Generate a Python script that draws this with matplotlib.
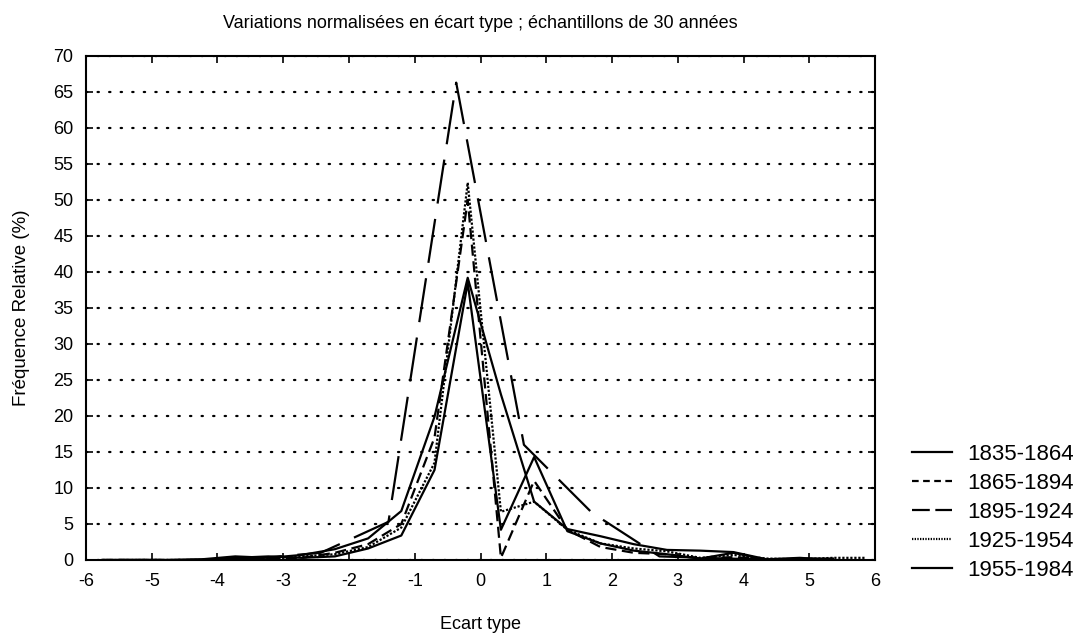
import numpy as np
import matplotlib
matplotlib.use('Agg')
import matplotlib.pyplot as plt
from matplotlib.lines import Line2D

plt.rcParams['font.family'] = ['Liberation Sans', 'DejaVu Sans']
plt.rcParams['axes.unicode_minus'] = False

# bin centres (in standard deviations) for the 0.5-sigma samples
x_fine = [-5.75, -5.245, -4.74, -4.235, -3.73, -3.225, -2.72, -2.215, -1.71, -1.205,
          -0.70, -0.195, 0.31, 0.815, 1.32, 1.825, 2.33, 2.835, 3.34, 3.845,
          4.35, 4.855, 5.36]
x_dotted = x_fine + [5.865]
# the 1895-1924 sample has wider bins once normalised
x_wide = [-5.52, -4.49, -3.46, -2.43, -1.40, -0.37, 0.66, 1.69, 2.72, 3.75, 4.78]

f_1835 = [0, 0, 0, 0.1, 0.5, 0.3, 0.7, 1.5, 3.0, 6.8,
          19.9, 39.2, 23.0, 8.1, 4.3, 3.3, 2.2, 1.4, 1.3, 1.1,
          0.1, 0.3, 0]
f_1865 = [0, 0, 0, 0, 0.1, 0.2, 0.3, 1.0, 2.2, 5.0,
          17.0, 50.0, 0.3, 11.0, 4.2, 1.8, 1.0, 0.8, 0.2, 0.4,
          0.1, 0, 0]
f_1895 = [0, 0, 0.2, 1.0, 5.3, 66.3, 16.0, 6.6, 0.5, 0.2, 0]
f_1925 = [0, 0, 0, 0, 0.1, 0.2, 0.5, 0.8, 1.8, 4.5,
          13.5, 52.4, 6.7, 8.1, 4.2, 2.3, 1.6, 1.2, 0.3, 0.7,
          0.2, 0.1, 0.3, 0.3]
f_1955 = [0, 0, 0, 0, 0.3, 0.5, 0.3, 0.5, 1.6, 3.4,
          12.5, 38.5, 4.2, 14.3, 4.0, 2.3, 1.3, 0.8, 0.2, 1.0,
          0, 0.2, 0.2]

labels = ['1835-1864', '1865-1894', '1895-1924', '1925-1954', '1955-1984']

fig = plt.figure(figsize=(10.84, 6.4), dpi=100)
ax = fig.add_axes([0.0793, 0.125, 0.7280, 0.7875])

lw = 1.6
ax.plot(x_fine, f_1835, color='black', lw=lw, ls='-')
ax.plot(x_fine, f_1865, color='black', lw=lw, dashes=(5, 2.5))
ax.plot(x_wide, f_1895, color='black', lw=lw, dashes=(20, 7))
ax.plot(x_dotted, f_1925, color='black', lw=lw, dashes=(1, 0.8))
ax.plot(x_fine, f_1955, color='black', lw=lw, ls='-')

ax.set_xlim(-6, 6)
ax.set_ylim(0, 70)
ax.set_xticks(np.arange(-6, 7, 1))
ax.set_yticks(np.arange(0, 71, 5))
ax.grid(axis='y', color='black', lw=1.6, linestyle=(0, (0.6, 4.6)), dash_capstyle='round')
ax.set_axisbelow(True)

for s in ax.spines.values():
    s.set_linewidth(1.5)
ax.tick_params(direction='in', top=True, right=True, length=5, width=1.2,
               labelsize=13)
ax.tick_params(axis='x', pad=9)
ax.tick_params(axis='y', pad=9)

ax.set_title('Variations normalisées en écart type ; échantillons de 30 années',
             fontsize=13, pad=20)
ax.set_xlabel('Ecart type', fontsize=13, labelpad=19)
ax.set_ylabel('Fréquence Relative (%)', fontsize=13.5, labelpad=17)

# legend proxies with shorter dash patterns
styles = [dict(ls='-'), dict(dashes=(3, 2)), dict(dashes=(8, 2.5)),
          dict(dashes=(0.6, 0.6)), dict(ls='-')]
handles = [Line2D([], [], color='black', lw=1.6, **st) for st in styles]
fig.legend(handles, labels, loc='lower left', bbox_to_anchor=(0.841, 0.092),
           frameon=False, fontsize=16, handlelength=1.8, handletextpad=0.68,
           labelspacing=0.36, borderpad=0, borderaxespad=0)

fig.savefig('out.png', dpi=100)
